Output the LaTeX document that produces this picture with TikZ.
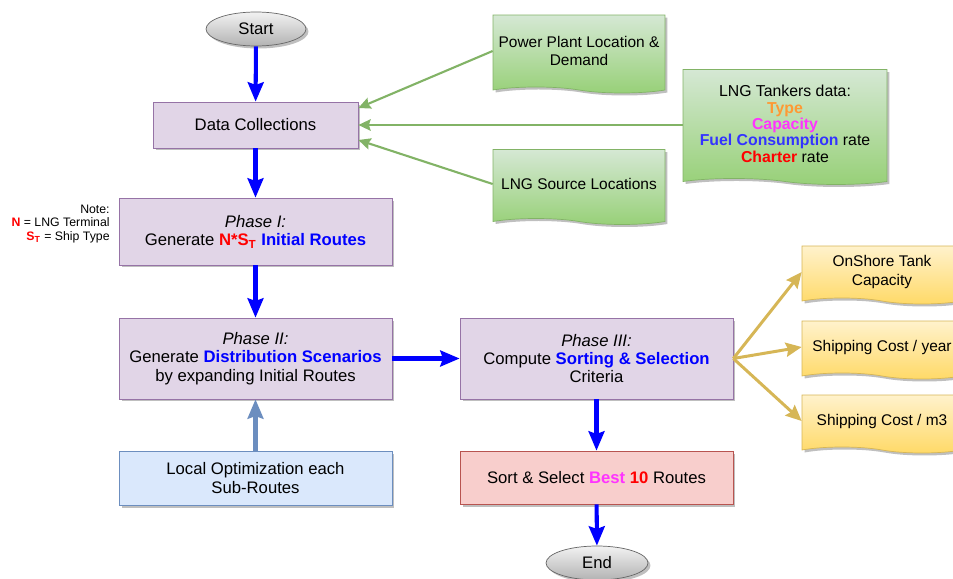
\documentclass[tikz,border=0pt]{standalone}
\usepackage{fontspec}
\setmainfont{Liberation Sans}
\usetikzlibrary{shapes.geometric,shapes.symbols,arrows.meta,shadows}

\definecolor{phasefill}{HTML}{E1D5E7}
\definecolor{phaseline}{HTML}{9673A6}
\definecolor{optfill}{HTML}{DAE8FC}
\definecolor{optline}{HTML}{6C8EBF}
\definecolor{sortfill}{HTML}{F8CECC}
\definecolor{sortline}{HTML}{B85450}
\definecolor{greentop}{HTML}{D5E8D4}
\definecolor{greenbot}{HTML}{97D077}
\definecolor{greenline}{HTML}{82B366}
\definecolor{goldtop}{HTML}{FFF2CC}
\definecolor{goldbot}{HTML}{FFD966}
\definecolor{goldline}{HTML}{D6B656}
\definecolor{flowblue}{HTML}{0000FF}
\definecolor{txtred}{HTML}{FF0000}
\definecolor{txtpink}{HTML}{FF33FF}
\definecolor{txtorange}{HTML}{FF9933}
\definecolor{txtblue}{HTML}{3333FF}

\tikzset{
  shadowed/.style={drop shadow={shadow xshift=0.05cm,shadow yshift=-0.05cm,fill=black,opacity=0.25}},
  terminal/.style={ellipse,draw=black!60,top color=white!95!black,bottom color=black!30,
    minimum width=2cm,minimum height=0.68cm,inner sep=0pt,shadowed},
  phase/.style={rectangle,draw=phaseline,fill=phasefill,minimum width=5.46cm,align=center,
    font=\fontsize{9.5}{10.5}\selectfont,shadowed},
  docbox/.style={tape,tape bend top=none,tape bend bottom=out and in,tape bend height=0.12cm,
    align=center,inner xsep=2pt,font=\fontsize{8.8}{10.5}\selectfont,shadowed},
  source/.style={docbox,draw=greenline,top color=greentop,bottom color=greenbot},
  result/.style={docbox,draw=goldline,top color=goldtop,bottom color=goldbot,
    minimum width=3.2cm,minimum height=1.16cm},
  flow/.style={draw=flowblue,line width=2.3pt,-{Stealth[length=11pt,width=9pt,inset=1.5pt]}},
  feed/.style={draw=greenline,line width=1.2pt,-{Stealth[length=7pt,width=6.5pt,inset=1pt]}},
  crit/.style={draw=goldline,line width=1.7pt,-{Stealth[length=9pt,width=8pt,inset=1.2pt]}}
}

\begin{document}
\begin{tikzpicture}[x=0.02cm,y=-0.02cm]
\useasboundingbox (0,0) rectangle (953,578);

% main flow
\node[terminal] (start) at (256,29) {\fontsize{9.5}{11}\selectfont Start};
\node[phase,minimum width=4.1cm,minimum height=0.92cm] (data) at (255.5,125) {Data Collections};
\node[phase,minimum height=1.34cm] (p1) at (255.5,231.5)
  {\textit{Phase I:}\\Generate \textcolor{txtred}{\textbf{N*S\textsubscript{T}}} \textcolor{flowblue}{\textbf{Initial Routes}}};
\node[phase,minimum height=1.62cm] (p2) at (255.5,358.5)
  {\textit{Phase II:}\\Generate \textcolor{flowblue}{\textbf{Distribution Scenarios}}\\by expanding Initial Routes};
\node[phase,draw=optline,fill=optfill,minimum height=1.08cm] (opt) at (255.5,478)
  {Local Optimization each\\Sub-Routes};
\node[phase,minimum height=1.62cm] (p3) at (596.5,358.5)
  {\textit{Phase III:}\\Compute \textcolor{flowblue}{\textbf{Sorting \& Selection}}\\Criteria};
\node[phase,draw=sortline,fill=sortfill,minimum height=1.06cm] (sort) at (596.5,477.5)
  {Sort \& Select \textcolor{txtpink}{\textbf{Best}} \textcolor{txtred}{\textbf{10}} Routes};
\node[terminal,minimum width=2.04cm] (end) at (597,563) {\fontsize{9.5}{11}\selectfont End};

% note
\node[anchor=east,align=right,inner sep=0pt,font=\fontsize{7}{7.6}\selectfont] (note) at (110,224)
  {Note:\\\textcolor{txtred}{\textbf{N}} = LNG Terminal\\\textcolor{txtred}{\textbf{S\textsubscript{T}}} = Ship Type};

% input data
\node[source,minimum width=3.44cm,minimum height=1.56cm] (plant) at (579,51) {Power Plant Location \&\\Demand};
\node[source,minimum width=3.44cm,minimum height=1.5cm] (lngsrc) at (579,184) {LNG Source Locations};
\node[source,minimum width=4.08cm,minimum height=2.3cm,font=\fontsize{9}{9.3}\selectfont] (tankers) at (785,124)
  {LNG Tankers data:\\\textcolor{txtorange}{\textbf{Type}}\\\textcolor{txtpink}{\textbf{Capacity}}\\
   \textcolor{txtblue}{\textbf{Fuel Consumption}} rate\\\textcolor{txtred}{\textbf{Charter}} rate};

% criteria
\node[result] (tank) at (882,272) {OnShore Tank\\Capacity};
\node[result] (peryear) at (882,347) {Shipping Cost / year};
\node[result] (perm3) at (882,421) {Shipping Cost / m3};

% connectors
\draw[flow] (start) -- (data);
\draw[flow] (data) -- (p1);
\draw[flow] (p1) -- (p2);
\draw[flow] (p2) -- (p3);
\draw[flow] (p3) -- (sort);
\draw[flow] (sort) -- (end);
\draw[flow,draw=optline] (opt) -- (p2);
\draw[feed] (plant.west) -- ([yshift=0.34cm]data.east);
\draw[feed] (tankers.west |- data.east) -- (data.east);
\draw[feed] (lngsrc.west) -- ([yshift=-0.3cm]data.east);
\draw[crit] (p3.east) -- (tank.west);
\draw[crit] (p3.east) -- (peryear.west);
\draw[crit] (p3.east) -- (perm3.west);
\end{tikzpicture}
\end{document}
